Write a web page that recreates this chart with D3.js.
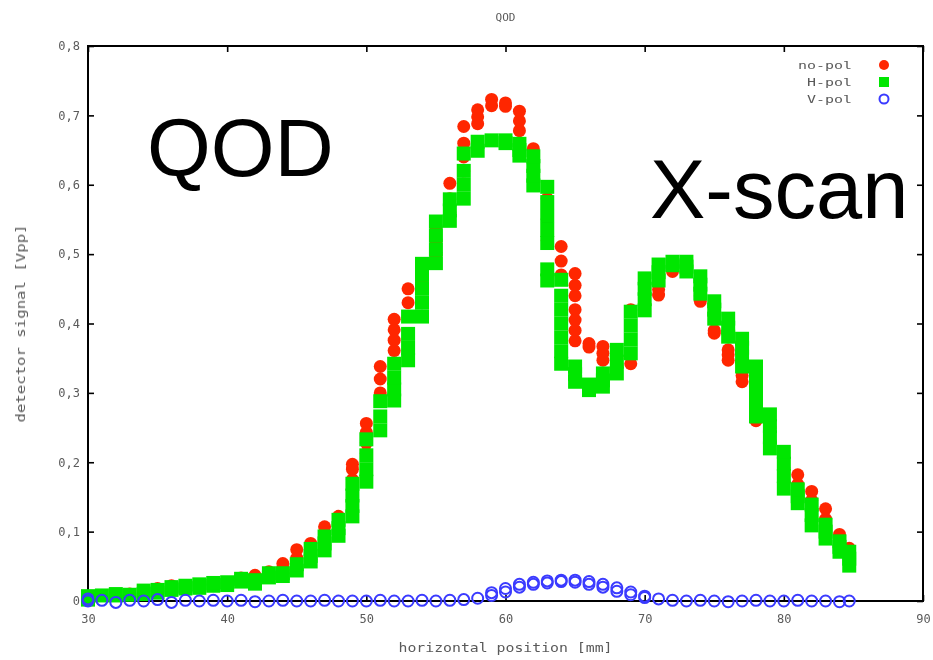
<!DOCTYPE html>
<html><head><meta charset="utf-8">
<script src="https://cdn.jsdelivr.net/npm/d3@7"></script>
<style>body{margin:0;background:#fff} svg{display:block}</style>
</head><body><svg id="c" width="933" height="660"></svg>
<script>
// ---- data ----
const positions = [30,31,32,33,34,35,36,37,38,39,40,41,42,43,44,45,46,47,48,49,50,51,52,53,54,55,56,57,58,59,60,61,62,63,64,65,66,67,68,69,70,71,72,73,74,75,76,77,78,79,80,81,82,83,84,84.7];
const noPol = [
 [0.004],[0.008],[0.009],[0.010],[0.013],[0.014,0.018],[0.018,0.022],[0.020],[0.022],[0.024],
 [0.026],[0.028,0.033],[0.030,0.037],[0.036,0.042],[0.040,0.047,0.054],[0.050,0.062,0.074],[0.060,0.072,0.083],[0.080,0.094,0.107],[0.100,0.110,0.122],[0.160,0.175,0.190,0.197],
 [0.213,0.228,0.243,0.256],[0.300,0.320,0.338],[0.361,0.376,0.391,0.406],[0.410,0.430,0.450],[0.430,0.460,0.480],[0.500,0.520,0.540],[0.560,0.580,0.602],[0.620,0.640,0.660,0.684],[0.688,0.698,0.708],[0.714,0.723],
 [0.713,0.718],[0.678,0.692,0.706],[0.630,0.652],[0.520,0.550,0.580],[0.470,0.490,0.511],[0.375,0.390,0.405,0.420,0.440,0.455,0.472],[0.366,0.371],[0.347,0.357,0.367],[0.340,0.350],[0.342,0.420],
 [0.430,0.450],[0.441,0.449],[0.475,0.480],[0.478,0.485],[0.432,0.440],[0.386,0.390],[0.347,0.355,0.362],[0.316,0.325],[0.260,0.270],[0.230,0.250],
 [0.170,0.190],[0.168,0.182],[0.145,0.158],[0.118,0.133],[0.096],[0.076]
];
const hPol = [
 [0.002,0.007],[0.008],[0.008,0.010],[0.009],[0.010,0.015],[0.012,0.016],[0.016,0.020],[0.018,0.022],[0.019,0.024],[0.022,0.026],
 [0.023,0.027],[0.028,0.032],[0.025,0.030],[0.034,0.040],[0.036,0.040],[0.044,0.053],[0.057,0.065,0.075],[0.073,0.083,0.093],[0.094,0.105,0.117],[0.122,0.137,0.152,0.169],
 [0.172,0.190,0.210,0.233],[0.246,0.266,0.288],[0.289,0.305,0.322,0.342],[0.347,0.365,0.385,0.410],[0.410,0.430,0.450,0.470,0.486],[0.487,0.507,0.527,0.547],[0.548,0.563,0.579],[0.580,0.600,0.620,0.645],[0.649,0.662],[0.664],
 [0.660,0.664],[0.642,0.650,0.659],[0.599,0.613,0.627,0.641],[0.462,0.478,0.516,0.535,0.555,0.575,0.597],[0.342,0.360,0.380,0.400,0.420,0.440,0.463],[0.316,0.327,0.338],[0.304,0.312],[0.309,0.318,0.328],[0.328,0.345,0.362],[0.357,0.377,0.397,0.417],
 [0.419,0.435,0.450,0.465],[0.462,0.474,0.485],[0.484,0.489],[0.475,0.482,0.489],[0.443,0.456,0.468],[0.407,0.420,0.432],[0.381,0.394,0.407],[0.338,0.352,0.365,0.378],[0.266,0.284,0.302,0.320,0.338],[0.220,0.236,0.252,0.269],
 [0.162,0.180,0.198,0.215],[0.141,0.151,0.161],[0.109,0.124,0.139],[0.090,0.100,0.110],[0.071,0.078,0.086],[0.051,0.061,0.071]
];
const vPol = [
 [0.000,0.003],[0.001],[-0.002],[0.001],[0.000],[0.002],[-0.002],[0.001],[0.000],[0.001],
 [0.000],[0.001],[-0.001],[0.000],[0.001],[0.000],[0.000],[0.001],[0.000],[0.000],
 [0.000],[0.001],[0.000],[0.000],[0.001],[0.000],[0.001],[0.002],[0.004],[0.008,0.012],
 [0.013,0.018],[0.020,0.024],[0.024,0.027],[0.026,0.029],[0.028,0.030],[0.027,0.030],[0.024,0.028],[0.020,0.024],[0.014,0.019],[0.009,0.013],
 [0.005,0.007],[0.003],[0.001],[0.000],[0.001],[0.000],[-0.001],[0.000],[0.001],[0.000],
 [0.000],[0.001],[0.000],[0.000],[-0.001],[0.000]
];
const xTicks = [30,40,50,60,70,80,90];
const yTicks = [0,0.1,0.2,0.3,0.4,0.5,0.6,0.7,0.8];
const seriesNames = ["no-pol","H-pol","V-pol"];
const seriesColors = ["#ff2600","#00e600","#3a3aff"];
const chartTitle = "QOD";
const xLabel = "horizontal position [mm]";
const yLabel = "detector signal [Vpp]";
const overlayLeft = "QOD";
const overlayRight = "X-scan";

// ---- drawing ----
const svg = d3.select("#c");
const defs = svg.append("defs");
defs.append("filter").attr("id","soft").attr("x","-5%").attr("y","-5%").attr("width","110%").attr("height","110%")
  .append("feGaussianBlur").attr("stdDeviation",0.6);

const L = 88, R = 923, T = 46, B = 601;
const x = d3.scaleLinear().domain([30,90]).range([L,R]);
const y = d3.scaleLinear().domain([0,0.8]).range([B,T]);
const fmtY = d => d === 0 ? "0" : d3.format(".1f")(d).replace(".", ",");
const labelFont = "'DejaVu Sans Mono', monospace";
const txtCol = "#5a5a5a";

function flat(arr){
  const out = [];
  arr.forEach((vals,i) => vals.forEach(v => out.push({x: positions[i], y: v})));
  return out;
}

const chart = svg.append("g").attr("filter","url(#soft)");

// axes with inward ticks
const gx = chart.append("g").attr("transform",`translate(0,${B})`)
  .call(d3.axisBottom(x).tickValues(xTicks).tickSizeInner(-6).tickSizeOuter(0).tickPadding(13).tickFormat(d3.format("d")));
const gxt = chart.append("g").attr("transform",`translate(0,${T})`)
  .call(d3.axisTop(x).tickValues(xTicks).tickSizeInner(-6).tickSizeOuter(0).tickFormat(""));
const gy = chart.append("g").attr("transform",`translate(${L},0)`)
  .call(d3.axisLeft(y).tickValues(yTicks).tickSizeInner(-6).tickSizeOuter(0).tickPadding(8).tickFormat(fmtY));
const gyr = chart.append("g").attr("transform",`translate(${R},0)`)
  .call(d3.axisRight(y).tickValues(yTicks).tickSizeInner(-6).tickSizeOuter(0).tickFormat(""));
[gx,gxt,gy,gyr].forEach(g => {
  g.select(".domain").remove();
  g.selectAll(".tick line").attr("stroke","#000").attr("stroke-width",1.6);
  g.selectAll(".tick text").attr("fill",txtCol).style("font-family",labelFont).style("font-size","12px");
});

// frame
chart.append("rect").attr("x",L).attr("y",T).attr("width",R-L).attr("height",B-T)
  .attr("fill","none").attr("stroke","#000").attr("stroke-width",2);

// marks
const marks = chart.append("g");
marks.append("g").selectAll("circle").data(flat(noPol)).join("circle")
  .attr("cx",d=>x(d.x)).attr("cy",d=>y(d.y)).attr("r",6.5).attr("fill",seriesColors[0]);
marks.append("g").selectAll("rect").data(flat(hPol)).join("rect")
  .attr("x",d=>x(d.x)-7).attr("y",d=>y(d.y)-7).attr("width",14).attr("height",14).attr("fill",seriesColors[1]);
marks.append("g").selectAll("circle").data(flat(vPol)).join("circle")
  .attr("cx",d=>x(d.x)).attr("cy",d=>y(d.y)).attr("r",5.5).attr("fill","none")
  .attr("stroke",seriesColors[2]).attr("stroke-width",2);

// title
chart.append("text").attr("x",(L+R)/2).attr("y",21).attr("text-anchor","middle")
  .attr("fill",txtCol).style("font-family",labelFont).style("font-size","11px").text(chartTitle);
// axis labels
chart.append("text").attr("x",(L+R)/2).attr("y",652).attr("text-anchor","middle")
  .attr("fill",txtCol).style("font-family",labelFont).style("font-size","12px")
  .attr("textLength",214).attr("lengthAdjust","spacingAndGlyphs").text(xLabel);
chart.append("text").attr("transform",`translate(25,${(T+B)/2}) rotate(-90)`).attr("text-anchor","middle")
  .attr("fill",txtCol).style("font-family",labelFont).style("font-size","12px")
  .attr("textLength",198).attr("lengthAdjust","spacingAndGlyphs").text(yLabel);

// legend
const lg = chart.append("g");
const rows = [65,82,99];
seriesNames.forEach((n,i) => {
  lg.append("text").attr("x",852).attr("y",rows[i]+4).attr("text-anchor","end")
    .attr("fill",txtCol).style("font-family",labelFont).style("font-size","11px")
    .attr("textLength",n.length*9).attr("lengthAdjust","spacingAndGlyphs").text(n);
});
lg.append("circle").attr("cx",884).attr("cy",rows[0]).attr("r",5).attr("fill",seriesColors[0]);
lg.append("rect").attr("x",879).attr("y",rows[1]-5).attr("width",10).attr("height",10).attr("fill",seriesColors[1]);
lg.append("circle").attr("cx",884).attr("cy",rows[2]).attr("r",4.5).attr("fill","none").attr("stroke",seriesColors[2]).attr("stroke-width",2);

// overlay annotations (crisp)
svg.append("text").attr("x",147).attr("y",176).attr("fill","#000")
  .style("font-family","'Liberation Sans', Arial, sans-serif").style("font-size","82px").text(overlayLeft);
svg.append("text").attr("x",650).attr("y",218).attr("fill","#000")
  .style("font-family","'Liberation Sans', Arial, sans-serif").style("font-size","83px").text(overlayRight);
</script></body></html>
